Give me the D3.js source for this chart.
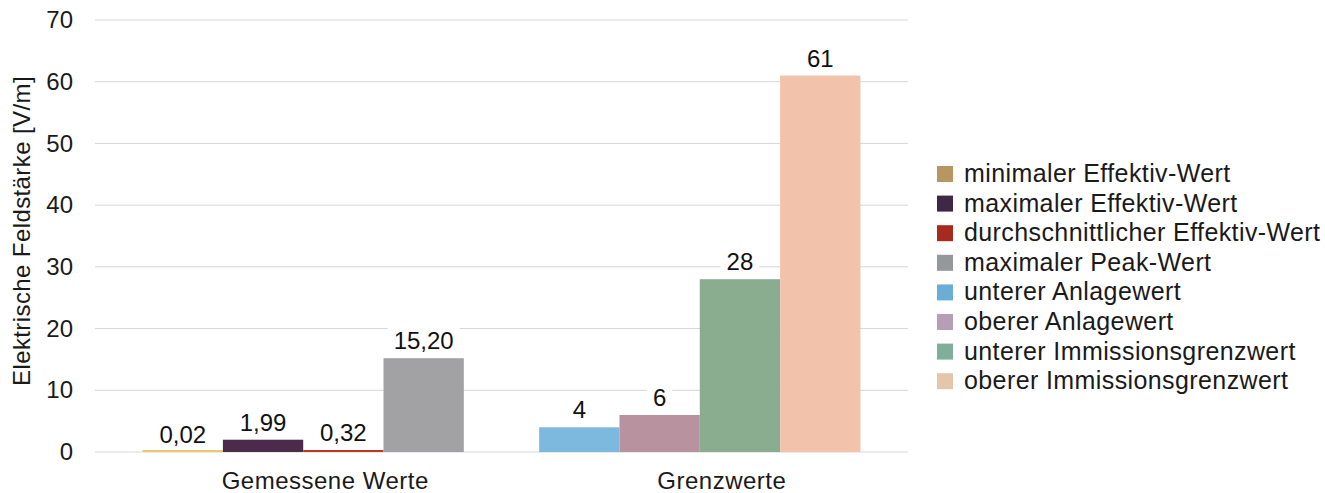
<!DOCTYPE html>
<html>
<head>
<meta charset="utf-8">
<script src="https://cdn.jsdelivr.net/npm/d3@7"></script>
<style>
  body { margin: 0; background: #fff; }
  svg { font-family: "Liberation Sans", Arial, sans-serif; }
</style>
</head>
<body>
<svg width="1325" height="493"></svg>
<script>
const groups = ["Gemessene Werte", "Grenzwerte"];
const seriesNames = [
  "minimaler Effektiv-Wert",
  "maximaler Effektiv-Wert",
  "durchschnittlicher Effektiv-Wert",
  "maximaler Peak-Wert",
  "unterer Anlagewert",
  "oberer Anlagewert",
  "unterer Immissionsgrenzwert",
  "oberer Immissionsgrenzwert"
];
// each group only carries its own four series
const measuredValues = [0.02, 1.99, 0.32, 15.2];
const limitValues = [4, 6, 28, 61];
const measuredLabels = ["0,02", "1,99", "0,32", "15,20"];
const limitLabels = ["4", "6", "28", "61"];
const barColors = ["#e8c86a", "#4b2a4c", "#b93a22", "#a2a2a4", "#7db8df", "#b8929e", "#8aac8f", "#f3c2ab"];
const legendColors = ["#b9955f", "#3f2846", "#a82a1e", "#96979b", "#6aaed6", "#b59fb7", "#7fae9c", "#e6c6aa"];
const yTicks = [0, 10, 20, 30, 40, 50, 60, 70];

const fontSize = 24;
const textColor = "#1a1a1a";

const svg = d3.select("svg");
const margin = { left: 95, right: 417, top: 20, bottom: 41 };
const width = 1325 - margin.left - margin.right;
const height = 493 - margin.top - margin.bottom;

const x0 = d3.scaleBand().domain(groups).range([0, width]).paddingInner(0.19).paddingOuter(0.12);
const x1 = d3.scaleBand().domain([0, 1, 2, 3]).range([0, x0.bandwidth()]);
const y = d3.scaleLinear().domain([0, 70]).range([height, 0]);

const g = svg.append("g").attr("transform", "translate(" + margin.left + "," + margin.top + ")");

// grid
g.append("g")
  .selectAll("line")
  .data(yTicks)
  .enter().append("line")
    .attr("x1", 0).attr("x2", width)
    .attr("y1", d => y(d)).attr("y2", d => y(d))
    .attr("stroke", "#d6d6d6").attr("stroke-width", 1);

// y axis labels
const yAxis = g.append("g").call(d3.axisLeft(y).tickValues(yTicks).tickSize(0).tickPadding(22));
yAxis.select(".domain").remove();
yAxis.selectAll("text")
  .attr("font-size", fontSize).attr("fill", textColor)
  .style("font-family", "Liberation Sans, Arial, sans-serif");

// x axis labels (sit a little right of the group centre, as in the original)
const xAxis = g.append("g").attr("transform", "translate(22," + height + ")")
  .call(d3.axisBottom(x0).tickSize(0).tickPadding(20));
xAxis.select(".domain").remove();
xAxis.selectAll("text")
  .attr("font-size", fontSize).attr("fill", textColor)
  .attr("letter-spacing", 0.5)
  .style("font-family", "Liberation Sans, Arial, sans-serif");

// y title
svg.append("text")
  .attr("transform", "translate(30," + 231 + ") rotate(-90)")
  .attr("text-anchor", "middle")
  .attr("font-size", fontSize).attr("fill", textColor)
  .attr("letter-spacing", 0.4)
  .text("Elektrische Feldstärke [V/m]");

const rows = [];
measuredValues.forEach((v, i) => rows.push({ group: groups[0], idx: i, value: v, label: measuredLabels[i], color: barColors[i] }));
limitValues.forEach((v, i) => rows.push({ group: groups[1], idx: i, value: v, label: limitLabels[i], color: barColors[i + 4] }));

g.append("g")
  .selectAll("rect")
  .data(rows)
  .enter().append("rect")
    .attr("x", d => x0(d.group) + x1(d.idx))
    .attr("width", x1.bandwidth())
    .attr("y", d => Math.min(y(d.value), height - 2))
    .attr("height", d => Math.max(height - y(d.value), 2))
    .attr("fill", d => d.color);

// value labels with white backing to break the grid
const labels = g.append("g")
  .selectAll("g")
  .data(rows)
  .enter().append("g")
    .attr("transform", d => "translate(" + (x0(d.group) + x1(d.idx) + x1.bandwidth() / 2) + "," + (y(d.value) - 9) + ")");
labels.append("text")
  .attr("text-anchor", "middle")
  .attr("font-size", fontSize).attr("fill", "#111")
  .text(d => d.label);
labels.each(function() {
  const sel = d3.select(this);
  const bb = sel.select("text").node().getBBox();
  sel.insert("rect", "text")
    .attr("x", bb.x - 6).attr("y", bb.y)
    .attr("width", bb.width + 12).attr("height", bb.height)
    .attr("fill", "#fff");
});

// legend
const legend = svg.append("g").attr("transform", "translate(937,166)");
const items = legend.selectAll("g")
  .data(seriesNames)
  .enter().append("g")
    .attr("transform", (d, i) => "translate(0," + i * 29.6 + ")");
items.append("rect")
  .attr("width", 16).attr("height", 16)
  .attr("fill", (d, i) => legendColors[i]);
items.append("text")
  .attr("x", 27).attr("y", 16)
  .attr("font-size", 25).attr("fill", textColor)
  .attr("letter-spacing", 0.4)
  .text(d => d);
</script>
</body>
</html>
